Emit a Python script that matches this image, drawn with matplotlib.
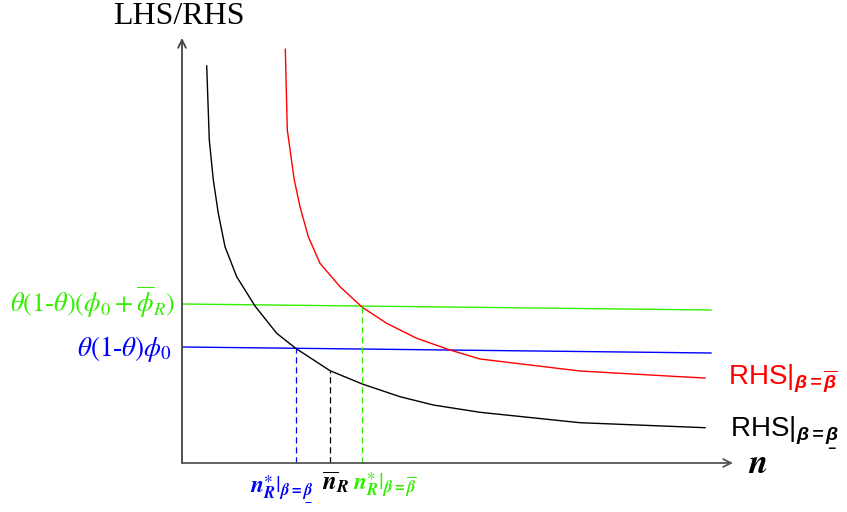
import numpy as np
import matplotlib
matplotlib.use("Agg")
import matplotlib.pyplot as plt

plt.rcParams['mathtext.fontset'] = 'custom'
plt.rcParams['mathtext.rm'] = 'Liberation Sans'
plt.rcParams['mathtext.it'] = 'Liberation Sans:italic'
plt.rcParams['mathtext.bf'] = 'Liberation Sans:bold'
plt.rcParams['mathtext.bfit'] = 'Liberation Sans:italic:bold'

# ---- data (diagram units: n to the right, LHS/RHS upward) ----
black_n = [24.7, 27.3, 31.3, 36.3, 43, 54.7, 73, 94.7, 113.7, 148, 180.3,
           218, 251.3, 298, 398, 498, 523]
black_y = [397, 323, 283, 249.7, 216.3, 186.3, 157, 129.7, 114.7, 92.3, 79,
           66.3, 58, 50.7, 40.3, 36.3, 35.3]

red_n = [103.3, 105.3, 112.3, 118, 126.3, 138, 158, 180.3, 204.7, 234.7, 268,
         298, 398, 498, 523]
red_y = [413.7, 333, 283, 256.3, 226.3, 199.7, 176.3, 155.7, 139.7, 124.7, 113,
         104, 92, 86.3, 85]

green_n = [1, 529]
green_y = [159, 153]
blue_n = [1, 529]
blue_y = [116, 110]

n_star_low = 113.7
n_bar = 148.3
n_star_high = 180.4

GREEN = '#33ee00'
BLUE = '#0000ff'
RED = '#ff0000'

fig = plt.figure(figsize=(8.47, 5.12), dpi=100)
ax = fig.add_axes([0, 0, 1, 1])
ax.set_xlim(-182, 665)
ax.set_ylim(-49, 463)
ax.axis('off')

# axes arrows
ax.annotate('', xy=(551, 0), xytext=(0, 0),
            arrowprops=dict(arrowstyle='->', color='#555555', lw=1.3,
                            mutation_scale=14, shrinkA=0, shrinkB=0))
ax.annotate('', xy=(0, 425), xytext=(0, 0),
            arrowprops=dict(arrowstyle='->', color='#444444', lw=1.3,
                            mutation_scale=14, shrinkA=0, shrinkB=0))

# curves and lines
ax.plot(green_n, green_y, color=GREEN, lw=1)
ax.plot(blue_n, blue_y, color=BLUE, lw=1)
ax.plot(black_n, black_y, color='black', lw=1)
ax.plot(red_n, red_y, color=RED, lw=1)

# dashed guides
top_low = np.interp(n_star_low, blue_n, blue_y)
top_bar = np.interp(n_bar, black_n, black_y)
top_high = np.interp(n_star_high, green_n, green_y)
ax.plot([n_star_low, n_star_low], [0, top_low], color=BLUE, lw=0.9, ls=(0, (5, 3)))
ax.plot([n_bar, n_bar], [0, top_bar], color='black', lw=0.9, ls=(0, (5, 3)))
ax.plot([n_star_high, n_star_high], [0, top_high], color=GREEN, lw=0.9, ls=(0, (5, 3)))

# texts
ax.text(-3, 447, 'LHS/RHS', family='Liberation Serif', fontsize=23,
        ha='center', va='center', color='black')

ax.text(-7, 161, r'$\mathit{\theta(1}$-$\mathit{\theta)(\phi_0+\overline{\phi}_R)}$',
        family='Liberation Serif', style='italic', fontsize=19, color=GREEN,
        ha='right', va='center', math_fontfamily='stix')
ax.text(-10, 114, r'$\mathit{\theta(1}$-$\mathit{\theta)\phi_0}$',
        family='Liberation Serif', style='italic', fontsize=19.5, color=BLUE,
        ha='right', va='center', math_fontfamily='stix')

ax.text(546, 78, r'$\mathrm{RHS}|_{\mathbfit{\beta=\overline{\beta}}}$',
        fontsize=20, color=RED, ha='left', va='baseline', math_fontfamily='custom')
ax.text(548, 31, r'$\mathrm{RHS}|_{\mathbfit{\beta=\underset{-}{\beta}}}$',
        fontsize=20, color='black', ha='left', va='baseline', math_fontfamily='custom')

ax.text(566, -10, r'$\mathbfit{n}$', fontsize=25, color='black',
        ha='left', va='baseline', math_fontfamily='stix')

ax.text(68, -27, r'$\mathbfit{n}^{\ast}_{\mathbfit{R}}|_{\mathbfit{\beta=\underset{-}{\beta}}}$',
        fontsize=17, color=BLUE, ha='left', va='baseline', math_fontfamily='stix')
ax.text(139.5, -27, r'$\overline{\mathbfit{n}}_{\mathbfit{R}}$',
        fontsize=18, color='black', ha='left', va='baseline', math_fontfamily='stix')
ax.text(171, -27, r'$\mathbfit{n}^{\ast}_{\mathbfit{R}}|_{\mathbfit{\beta=\overline{\beta}}}$',
        fontsize=17, color=GREEN, ha='left', va='baseline', math_fontfamily='stix')

fig.savefig('out.png', dpi=100)
